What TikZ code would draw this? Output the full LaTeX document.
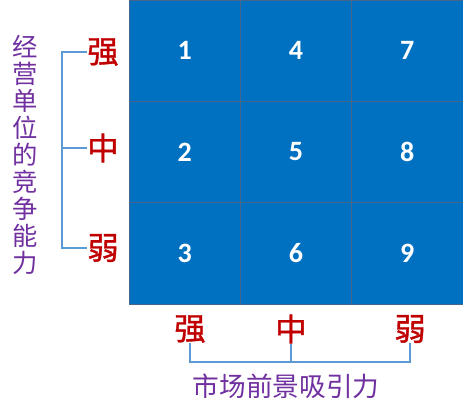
\documentclass[tikz,border=0pt]{standalone}
\usepackage{fontspec}
\setmainfont{Carlito}
\newfontfamily\cjk{Noto Sans CJK SC}
\newfontfamily\cjkb[FakeBold=1.2]{Noto Sans CJK SC}
\usetikzlibrary{positioning}
\definecolor{cellc}{RGB}{0,112,192}
\definecolor{gridc}{RGB}{70,100,140}
\definecolor{levelc}{RGB}{192,0,0}
\definecolor{axisc}{RGB}{112,48,160}
\definecolor{brkc}{RGB}{91,155,213}

\begin{document}
\begin{tikzpicture}[x=0.75pt,y=-0.75pt]
\tikzset{
  cell/.style={fill=cellc,draw=gridc,line width=0.6pt,minimum width=111.3*0.75pt,
    minimum height=101.3*0.75pt,inner sep=0pt,text=white,
    font=\fontsize{21}{21}\selectfont\bfseries},
  level/.style={text=levelc,inner sep=0pt,font=\cjkb\fontsize{23.5}{23.5}\selectfont},
  axis/.style={text=axisc,inner sep=0pt,font=\cjk\fontsize{19}{20.2}\selectfont},
  brk/.style={draw=brkc,line width=0.9pt}
}
\useasboundingbox (0,0) rectangle (463,407);
% 3x3 grid, numbered down the columns
\foreach \c in {0,1,2}{
  \foreach \r in {0,1,2}{
    \pgfmathtruncatemacro{\n}{3*\c+\r+1}
    \node[cell] (c\n) at (184.7+111.3*\c,50.7+101.3*\r) {\n};
  }
}
% left axis: competitive strength
\node[level] (sL) at (103,52) {强};
\node[level] (mL) at (103,148) {中};
\node[level] (wL) at (103,248) {弱};
\draw[brk] (sL.west) -- ++(-25,0) |- (wL.west);
\draw[brk] (mL.west) -- ++(-25,0);
\node[axis,align=center] (yL) at (25,155) {经\\营\\单\\位\\的\\竞\\争\\能\\力};
% bottom axis: market attractiveness
\node[level] (sB) at (190,329) {强};
\node[level] (mB) at (291,329) {中};
\node[level] (wB) at (410,329) {弱};
\coordinate (bb) at (0,362);
\draw[brk] (sB.south) -- (sB.south |- bb) -- (wB.south |- bb) -- (wB.south);
\draw[brk] (mB.south) -- (mB.south |- bb);
\node[axis,font=\cjk\fontsize{20}{20}\selectfont] (xL) at (286,386) {市场前景吸引力};
\end{tikzpicture}
\end{document}
